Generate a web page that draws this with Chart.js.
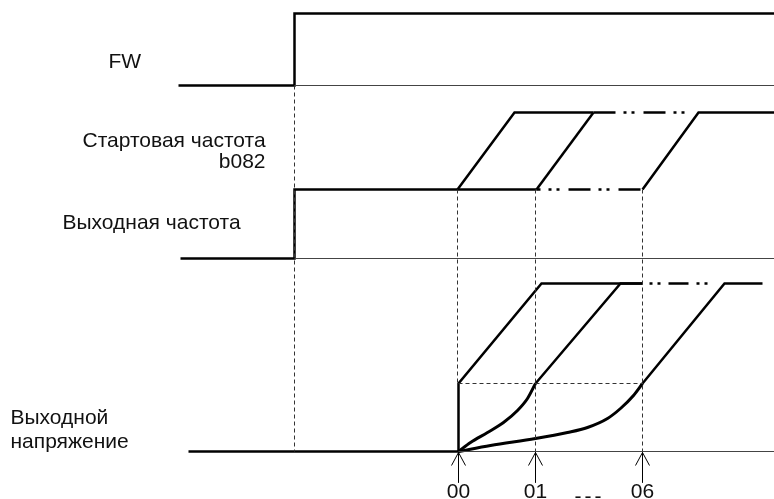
<!DOCTYPE html>
<html>
<head>
<meta charset="utf-8">
<script src="https://cdn.jsdelivr.net/npm/chart.js@4"></script>
<style>
  html, body { margin: 0; padding: 0; background: #fff; }
  canvas { display: block; }
</style>
</head>
<body>
<canvas id="diagram" width="774" height="499"></canvas>
<script>
// Подписи сигналов и отметок
const signalLabels = ['FW', 'Стартовая частота', 'b082', 'Выходная частота', 'Выходной', 'напряжение'];
const markerLabels = ['00', '01', '06'];
const markerTimes = [458, 535, 642];   // моменты пуска 00, 01, 06

// FW
const fwTime = [178, 294, 294, 774];
const fwLevel = [85, 85, 13, 13];

// Выходная частота (уровни: 0 -> 258, старт -> 189, макс -> 112)
const freqBaseTime = [180, 294, 294, 536];
const freqBaseLevel = [258, 258, 189, 189];
const freqRamp1Time = [457, 514, 593];
const freqRamp1Level = [189, 112, 112];
const freqRamp2Time = [536, 593];
const freqRamp2Level = [189, 112];
const freqRamp3Time = [642, 698, 774];
const freqRamp3Level = [189, 112, 112];
const freqTopGapTime = [593, 693];
const freqLowGapTime = [536, 642];

// Выходное напряжение (0 -> 451, старт -> 383, макс -> 283)
const voltBaseTime = [188, 458];
const voltRamp1Time = [458, 458, 541, 642];
const voltRamp1Level = [451, 383, 283, 283];
const voltCurve1Time = [458, 470, 487, 503, 517, 527, 535];
const voltCurve1Level = [451, 442, 432, 422, 410, 398, 383];
const voltRamp2Time = [535, 620, 642];
const voltRamp2Level = [383, 283, 283];
const voltCurve2Time = [458, 490, 535, 567, 587, 607, 620, 633, 642];
const voltCurve2Level = [451, 445, 438, 432, 427, 418, 408, 395, 383];
const voltRamp3Time = [642, 724, 762];
const voltRamp3Level = [383, 283, 283];
const voltTopGapTime = [642, 715];

function pts(xs, ys) {
    return xs.map((x, i) => ({ x: x, y: ys[i] }));
}
function hline(xs, y) {
    return xs.map(x => ({ x: x, y: y }));
}
function vline(x, ys) {
    return ys.map(y => ({ x: x, y: y }));
}

const thick = 2.5;
function solid(data, extra) {
    return Object.assign({ data: data, borderWidth: thick }, extra || {});
}

// Стрелки отметок
const arrowData = [];
markerTimes.forEach(t => {
    arrowData.push({ x: t, y: 451 }, { x: t, y: 482 }, { x: null, y: null });
    arrowData.push({ x: t - 7, y: 465 }, { x: t, y: 452 }, { x: t + 7, y: 465 }, { x: null, y: null });
});

const dashDot = [22, 8, 3, 5, 3, 9];
const guide = [4, 3];

const datasets = [
    // тонкие базовые линии
    { data: hline([294, 774], 85), borderWidth: 1, borderColor: '#444' },
    { data: hline([294, 774], 258), borderWidth: 1, borderColor: '#444' },
    { data: hline([458, 774], 451), borderWidth: 1, borderColor: '#444' },
    // пунктирные вертикали и горизонталь
    { data: vline(294, [85, 451]), borderWidth: 1, borderDash: guide, borderColor: '#333' },
    { data: vline(457, [189, 383]), borderWidth: 1, borderDash: guide, borderColor: '#333' },
    { data: vline(535, [189, 451]), borderWidth: 1, borderDash: guide, borderColor: '#333' },
    { data: vline(642, [189, 451]), borderWidth: 1, borderDash: guide, borderColor: '#333' },
    { data: hline([458, 642], 383), borderWidth: 1, borderDash: guide, borderColor: '#333' },
    // стрелки
    { data: arrowData, borderWidth: 1, spanGaps: false },
    // FW
    solid(pts(fwTime, fwLevel)),
    // частота
    solid(pts(freqBaseTime, freqBaseLevel)),
    solid(pts(freqRamp1Time, freqRamp1Level)),
    solid(pts(freqRamp2Time, freqRamp2Level)),
    solid(pts(freqRamp3Time, freqRamp3Level)),
    solid(hline(freqTopGapTime, 112), { borderDash: dashDot, borderDashOffset: 0 }),
    solid(hline(freqLowGapTime, 189), { borderDash: dashDot, borderDashOffset: 18 }),
    // напряжение
    solid(hline(voltBaseTime, 451)),
    solid(pts(voltRamp1Time, voltRamp1Level)),
    solid(pts(voltCurve1Time, voltCurve1Level), { cubicInterpolationMode: 'monotone', borderWidth: 3 }),
    solid(pts(voltRamp2Time, voltRamp2Level)),
    solid(pts(voltCurve2Time, voltCurve2Level), { cubicInterpolationMode: 'monotone', borderWidth: 3 }),
    solid(pts(voltRamp3Time, voltRamp3Level)),
    solid(hline(voltTopGapTime, 283), { borderDash: [20, 8, 3, 5, 3, 8], borderDashOffset: 21 })
].map(ds => Object.assign({
    showLine: true,
    borderColor: '#000',
    pointRadius: 0,
    fill: false,
    tension: 0,
    borderCapStyle: 'butt',
    borderJoinStyle: 'miter'
}, ds));

// Положение подписей: [x, y, выравнивание]
const labelLayout = [
    [108, 67, 'left'],
    [82, 146, 'left'],
    [265, 167, 'right'],
    [62, 228, 'left'],
    [10, 423, 'left'],
    [10, 447, 'left']
];

const textPlugin = {
    id: 'diagramText',
    afterDraw(chart) {
        const ctx = chart.ctx;
        const sx = chart.scales.x, sy = chart.scales.y;
        ctx.save();
        ctx.fillStyle = '#111';
        ctx.font = '21px "Liberation Sans", Arial, sans-serif';
        ctx.textBaseline = 'alphabetic';
        signalLabels.forEach((txt, i) => {
            const [x, y, align] = labelLayout[i];
            ctx.textAlign = align;
            ctx.fillText(txt, sx.getPixelForValue(x), sy.getPixelForValue(y));
        });
        ctx.textAlign = 'center';
        markerLabels.forEach((txt, i) => {
            ctx.fillText(txt, sx.getPixelForValue(markerTimes[i]), sy.getPixelForValue(497));
        });
        // многоточие между отметками 01 и 06
        ctx.letterSpacing = '3px';
        ctx.fillText('---', sx.getPixelForValue(589), sy.getPixelForValue(502));
        ctx.restore();
    }
};

new Chart(document.getElementById('diagram').getContext('2d'), {
    type: 'scatter',
    data: { datasets: datasets },
    options: {
        responsive: false,
        animation: false,
        devicePixelRatio: 1,
        layout: { padding: 0 },
        plugins: { legend: { display: false }, tooltip: { enabled: false } },
        scales: {
            // полпикселя сдвига, чтобы тонкие линии были чёткими
            x: { type: 'linear', min: -0.5, max: 773.5, display: false },
            y: { type: 'linear', min: -0.5, max: 498.5, reverse: true, display: false }
        }
    },
    plugins: [textPlugin]
});
</script>
</body>
</html>
